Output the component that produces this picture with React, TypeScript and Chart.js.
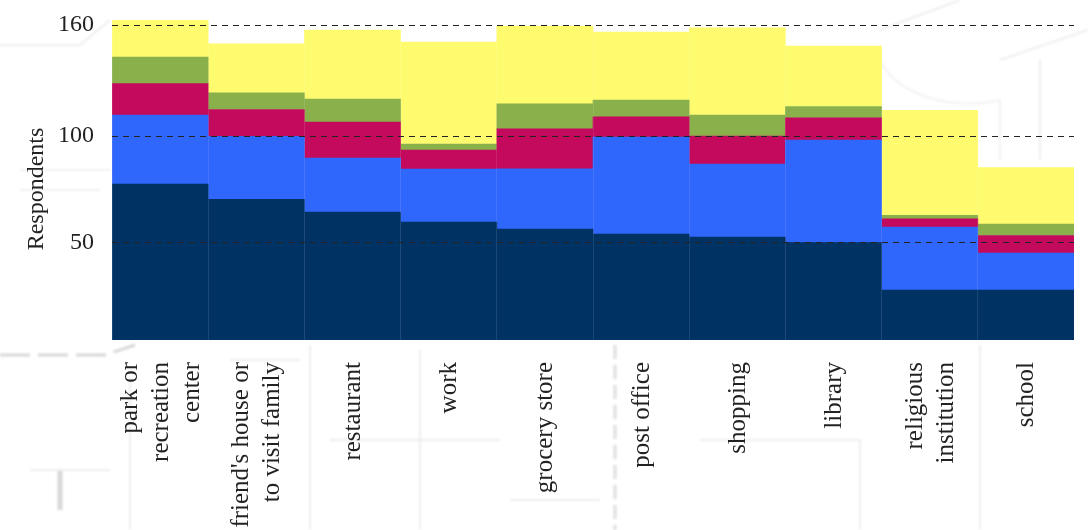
import React, { useEffect, useRef } from "react";
import { Chart, registerables } from "chart.js";

Chart.register(...registerables);

const categories: (string | string[])[] = [
  ["park or", "recreation", "center"],
  ["friend's house or", "to visit family"],
  "restaurant",
  "work",
  "grocery store",
  "post office",
  "shopping",
  "library",
  ["religious", "institution"],
  "school",
];
const seriesNavy = [79.2, 71.4, 65, 59.9, 56.4, 53.8, 52.3, 49.5, 25.4, 25.4];
const seriesBlue = [35, 32, 27.4, 26.9, 30.5, 49.3, 37.1, 52.1, 32, 18.8];
const seriesCrimson = [16, 13.7, 18.3, 9.7, 20.3, 10.2, 14.2, 11.2, 4.1, 8.9];
const seriesGreen = [13.5, 8.4, 11.7, 3, 12.7, 8.6, 10.7, 5.8, 1.8, 5.8];
const seriesYellow = [19.3, 24.9, 35, 51.8, 39.6, 34.5, 44.2, 30.7, 53.3, 28.7];
const tickValues = [49.3, 103.6, 160];
const tickLabels = ["50", "100", "160"];
const yTitle = "Respondents";
const serif = "'Liberation Serif', serif";
const labelLine = 31;

export default function App() {
  const ref = useRef<HTMLCanvasElement>(null);
  useEffect(() => {
    const helpers = {
      id: "helpers",
      beforeDraw(chart: any) {
        // centre rotated multi-line tick labels on their bars
        const sc = chart.scales.x;
        for (const item of sc.getLabelItems(chart.chartArea)) {
          const n = Array.isArray(item.label) ? item.label.length : 1;
          if (!item.options.shifted) {
            item.options.translation = [
              item.options.translation[0] + 1 - ((n - 1) / 2) * labelLine,
              item.options.translation[1],
            ];
            item.options.shifted = true;
          }
        }
      },
      afterDraw(chart: any) {
        const c = chart.ctx;
        c.save();
        c.translate(37, 189);
        c.rotate(-Math.PI / 2);
        c.font = `24px ${serif}`;
        c.fillStyle = "#222";
        c.textAlign = "center";
        c.textBaseline = "middle";
        c.fillText(yTitle, 0, 0);
        c.restore();
      },
    };
    const mk = (label: string, data: number[], backgroundColor: string) => ({
      label,
      data,
      backgroundColor,
      borderWidth: 0,
      barPercentage: 1,
      categoryPercentage: 1,
    });
    const chart = new Chart(ref.current!, {
      type: "bar",
      data: {
        labels: categories as any,
        datasets: [
          mk("a", seriesNavy, "#003264"),
          mk("b", seriesBlue, "#2f66fc"),
          mk("c", seriesCrimson, "#c30a5c"),
          mk("d", seriesGreen, "#8ab04c"),
          mk("e", seriesYellow, "#fffb6e"),
        ],
      },
      options: {
        animation: false,
        responsive: false,
        layout: { padding: { top: 20, right: 14, left: 0, bottom: 0 } },
        plugins: { legend: { display: false }, tooltip: { enabled: false } },
        scales: {
          x: {
            stacked: true,
            border: { display: false },
            grid: { color: "rgba(255,255,255,0.10)", z: 1, drawTicks: false },
            afterFit(s: any) {
              s.height = 190;
              s.paddingTop = 0;
              s.paddingBottom = 0;
            },
            ticks: {
              autoSkip: false,
              minRotation: 90,
              maxRotation: 90,
              padding: 22,
              color: "#222",
              font: { family: serif, size: 25, lineHeight: labelLine / 25 },
            },
          },
          y: {
            stacked: true,
            min: 0,
            max: 162.54,
            border: { display: false, dash: [6, 5] },
            grid: { color: "#222", lineWidth: 1, z: 1, drawTicks: false },
            afterFit(s: any) {
              s.width = 112;
              s.paddingTop = 0;
              s.paddingBottom = 0;
            },
            afterBuildTicks(s: any) {
              s.ticks = tickValues.map((value) => ({ value }));
            },
            ticks: {
              padding: 18,
              color: "#222",
              font: { family: serif, size: 24 },
              callback: (v: any) => tickLabels[tickValues.indexOf(Number(v))] ?? "",
            },
          },
        },
      } as any,
      plugins: [helpers],
    });
    return () => chart.destroy();
  }, []);
  return (
    <div style={{ position: "fixed", left: 0, top: 0, width: 1088, height: 530, background: "#fff", overflow: "hidden" }}>
      <svg width={1088} height={530} style={{ position: "absolute", left: 0, top: 0, filter: "blur(1px)" }} fill="none" stroke="#eeeeee" strokeWidth={2}>
        <path d="M0 355H105L135 345" stroke="#d8d8d8" strokeWidth={3} strokeDasharray="30 8" />
        <path d="M615 345V530" stroke="#dddddd" strokeWidth={3} strokeDasharray="14 6" />
        <path d="M60 470V510" stroke="#d8d8d8" strokeWidth={5} />
        <path d="M0 45H80L110 20M310 345V530M130 380V530M420 350V530M700 440H860V530M30 470H110M230 360H300M330 440H500M510 500H600M880 30L960 0M1000 60L1088 30M1040 60V160M980 345V530" />
        <path d="M880 60C900 100 960 110 1000 100M1000 100V160M20 170H110M20 190H100" stroke="#f2f2f2" />
      </svg>
      <canvas ref={ref} width={1088} height={530} style={{ position: "absolute", left: 0, top: 0, width: 1088, height: 530 }} />
    </div>
  );
}
